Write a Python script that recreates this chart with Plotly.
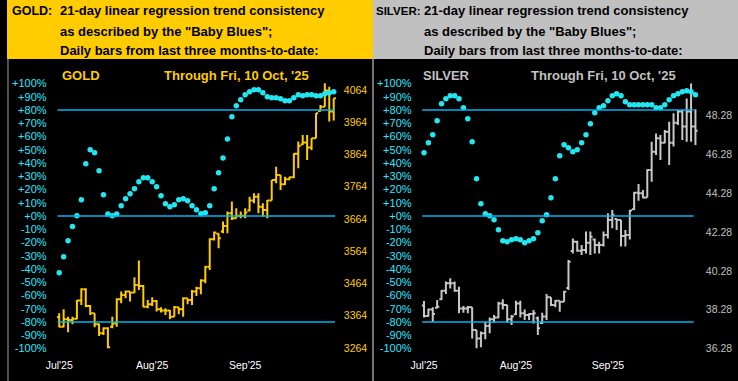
import plotly.graph_objects as go

W, H = 738, 381

# ---------------- data ----------------
bar_index = list(range(63))

gold_open = [3360, 3330, 3353, 3351, 3355, 3411, 3446, 3394, 3372, 3338, 3310, 3325, 3330, 3340, 3415, 3428,
             3439, 3436, 3459, 3456, 3392, 3400, 3410, 3384, 3380, 3380, 3361, 3390, 3384, 3418, 3413, 3439,
             3449, 3473, 3516, 3601, 3618, 3625, 3642, 3682, 3666, 3674, 3674, 3690, 3721, 3733, 3702, 3692,
             3721, 3785, 3800, 3772, 3787, 3793, 3866, 3895, 3901, 3886, 3914, 3999, 4012, 4062, 3997]
gold_high = [3372, 3384, 3361, 3361, 3413, 3449, 3449, 3397, 3372, 3340, 3328, 3328, 3361, 3418, 3439, 3442,
             3439, 3483, 3535, 3459, 3413, 3421, 3413, 3390, 3387, 3382, 3394, 3390, 3421, 3418, 3444, 3454,
             3477, 3518, 3604, 3625, 3620, 3656, 3687, 3718, 3697, 3687, 3697, 3733, 3744, 3744, 3713, 3723,
             3785, 3826, 3800, 3795, 3795, 3868, 3904, 3924, 3924, 3914, 3992, 4017, 4085, 4074, 4038]
gold_low = [3328, 3328, 3313, 3338, 3353, 3397, 3390, 3366, 3328, 3301, 3304, 3263, 3325, 3330, 3403, 3418,
            3408, 3434, 3444, 3390, 3387, 3394, 3377, 3374, 3366, 3353, 3361, 3369, 3361, 3400, 3397, 3425,
            3431, 3465, 3506, 3597, 3573, 3620, 3620, 3661, 3666, 3666, 3666, 3687, 3713, 3682, 3671, 3666,
            3721, 3775, 3754, 3769, 3785, 3790, 3821, 3893, 3847, 3878, 3914, 3997, 4012, 3966, 3969]
gold_close = [3330, 3353, 3351, 3355, 3411, 3446, 3394, 3372, 3338, 3310, 3325, 3266, 3340, 3415, 3428, 3439,
              3436, 3459, 3456, 3392, 3400, 3410, 3384, 3380, 3380, 3361, 3390, 3384, 3418, 3413, 3439, 3449,
              3473, 3516, 3601, 3622, 3604, 3642, 3682, 3666, 3674, 3674, 3684, 3721, 3733, 3702, 3692, 3721,
              3785, 3800, 3772, 3787, 3793, 3866, 3890, 3901, 3886, 3914, 3992, 4012, 4062, 3997, 4038]
gold_trend_pct = [-42.8, -30.7, -18.6, -8, 0.2, 12.3, 39.5, 50, 47.8, 34.2, 16, 1.5, 0.2, 1.5, 7.8, 13,
                  16.8, 20.6, 25.9, 28.9, 28.9, 25.9, 22.1, 15.3, 9.3, 7, 8.5, 12.3, 13, 11.5, 7.8, 4.8,
                  1.7, 2.5, 7.8, 20.6, 32.7, 43.8, 58.1, 75, 83.2, 87.8, 91.5, 93.8, 95.3, 95.3, 93, 90,
                  89.3, 89.3, 88.5, 87, 87, 89.3, 91.5, 90.8, 91.5, 91.5, 90.8, 90.8, 92.3, 93, 93.8]

silver_open = [38.50, 37.96, 38.30, 38.38, 38.82, 39.26, 39.64, 39.64, 39.26, 38.35, 38.35, 38.41, 37.24, 36.81,
               37.07, 37.45, 37.79, 37.89, 38.61, 38.53, 37.79, 38.05, 38.61, 38.10, 38.01, 38.06, 37.85, 37.60,
               37.93, 38.92, 38.53, 38.75, 38.70, 39.40, 41.30, 41.78, 41.32, 41.35, 41.73, 41.90, 41.61, 41.61,
               42.13, 42.90, 42.95, 42.90, 42.07, 42.13, 43.45, 44.30, 44.27, 44.06, 45.47, 46.41, 47.10, 46.87,
               47.44, 46.87, 47.90, 48.47, 47.70, 48.47, 47.70]
silver_high = [38.73, 38.35, 38.41, 38.78, 39.30, 39.73, 39.90, 39.73, 39.47, 38.47, 38.47, 38.41, 37.24, 37.16,
               37.67, 37.89, 38.01, 38.70, 38.82, 38.53, 38.01, 38.75, 38.75, 38.30, 38.10, 38.27, 37.93, 38.13,
               39.09, 38.92, 38.78, 38.75, 39.26, 40.84, 41.95, 41.83, 41.61, 42.30, 42.30, 41.95, 41.78, 42.30,
               43.24, 43.41, 42.98, 42.90, 42.38, 43.41, 44.35, 44.75, 44.44, 45.50, 46.92, 47.35, 47.27, 47.52,
               47.95, 48.38, 48.55, 48.55, 49.15, 49.92, 48.59]
silver_low = [37.89, 37.93, 37.67, 38.35, 38.78, 39.09, 39.38, 39.21, 38.10, 38.13, 38.10, 36.81, 36.30, 36.35,
              36.76, 37.07, 37.62, 37.84, 38.30, 37.62, 37.50, 38.01, 37.89, 37.76, 37.76, 37.58, 36.98, 37.55,
              37.76, 38.47, 38.41, 38.18, 38.70, 39.30, 41.18, 41.27, 41.10, 41.18, 41.10, 41.18, 41.18, 41.53,
              41.95, 42.47, 42.38, 41.53, 41.53, 41.90, 43.41, 43.89, 44.01, 44.06, 44.87, 46.24, 45.98, 46.84,
              45.72, 46.67, 47.78, 47.01, 46.92, 46.92, 46.75]
silver_close = [37.96, 38.30, 38.06, 38.44, 39.26, 39.64, 39.64, 39.26, 38.35, 38.35, 38.41, 37.24, 36.81, 37.07,
                37.45, 37.79, 37.89, 38.61, 38.53, 37.79, 37.93, 38.61, 38.10, 38.01, 38.06, 38.10, 37.33, 37.93,
                38.92, 38.53, 38.75, 38.70, 39.21, 40.75, 41.78, 41.32, 41.35, 41.73, 42.04, 41.61, 41.61, 42.13,
                42.90, 43.15, 42.90, 42.07, 42.13, 43.38, 44.30, 44.27, 44.06, 45.47, 46.41, 47.10, 46.87, 47.44,
                46.87, 47.90, 48.47, 47.70, 48.47, 47.70, 47.49]
silver_trend_pct = [47.8, 55.3, 61.4, 71.9, 84.8, 88.5, 90.8, 90.8, 88.5, 81.7, 73.4, 56.1, 28.2, 9.3, 1.7, 0.2,
                    -2.8, -10.3, -18.6, -19.4, -17.9, -17.1, -17.9, -20.2, -18.6, -17.1, -12.6, -3.5, 1, 13.8,
                    28.2, 45.5, 53.8, 51.5, 48.5, 50, 55.3, 61.4, 69.7, 78, 81.7, 83.2, 87, 90.8, 92.3, 90.8,
                    86.3, 84, 84, 84, 84, 84, 84, 81.7, 81.7, 84, 87.8, 90.8, 92.3, 93.8, 94.6, 93.8, 91.5]

pct_ticks = list(range(-100, 101, 10))
pct_labels = [("+%d%%" % v) if v >= 0 else ("%d%%" % v) for v in pct_ticks]
gold_ticks = [3264, 3364, 3464, 3564, 3664, 3764, 3864, 3964, 4064]
silver_ticks = [36.28, 38.28, 40.28, 42.28, 44.28, 46.28, 48.28]
month_pos = [0, 21, 42]
month_labels = ["Jul'25", "Aug'25", "Sep'25"]
ref_levels = [80, 0, -80]

header_lines = ["21-day linear regression trend consistency",
                "as described by the \"Baby Blues\";",
                "Daily bars from last three months-to-date:"]
through_text = "Through Fri, 10 Oct, '25"

# ---------------- styling ----------------
GOLD = "#FFCC00"
SILVER_HDR = "#C0C0C0"
SILVER_BAR = "#C8C8C8"
CYAN_DOT = "#22E6F0"
CYAN_TXT = "#2EE8FF"
LINE_BLUE = "#00B4F4"
FONT = "Liberation Sans"

def px(x):
    return x / W

def py(y):
    return 1 - y / H

ydom = [py(357), py(59)]

fig = go.Figure()

fig.add_trace(go.Ohlc(x=bar_index, open=gold_open, high=gold_high, low=gold_low, close=gold_close,
                      xaxis="x", yaxis="y", tickwidth=0.5,
                      increasing=dict(line=dict(color=GOLD, width=2)),
                      decreasing=dict(line=dict(color=GOLD, width=2)),
                      hoverinfo="skip", showlegend=False))
fig.add_trace(go.Scatter(x=bar_index, y=gold_trend_pct, mode="markers", xaxis="x", yaxis="y2",
                         marker=dict(color=CYAN_DOT, size=5.5, symbol="circle", line=dict(width=0)),
                         hoverinfo="skip", showlegend=False))
fig.add_trace(go.Ohlc(x=bar_index, open=silver_open, high=silver_high, low=silver_low, close=silver_close,
                      xaxis="x2", yaxis="y3", tickwidth=0.5,
                      increasing=dict(line=dict(color=SILVER_BAR, width=2)),
                      decreasing=dict(line=dict(color=SILVER_BAR, width=2)),
                      hoverinfo="skip", showlegend=False))
fig.add_trace(go.Scatter(x=bar_index, y=silver_trend_pct, mode="markers", xaxis="x2", yaxis="y4",
                         marker=dict(color=CYAN_DOT, size=5.5, symbol="circle", line=dict(width=0)),
                         hoverinfo="skip", showlegend=False))

shapes = []
shapes.append(dict(type="rect", xref="paper", yref="paper", x0=0, x1=px(369.5), y0=py(59), y1=1,
                   fillcolor=GOLD, line=dict(width=0), layer="below"))
shapes.append(dict(type="rect", xref="paper", yref="paper", x0=px(369.5), x1=1, y0=py(59), y1=1,
                   fillcolor=SILVER_HDR, line=dict(width=0), layer="below"))
shapes.append(dict(type="line", xref="paper", yref="paper", x0=px(369.5), x1=px(369.5), y0=0, y1=py(59),
                   line=dict(color="#C0C0C0", width=1.2)))
shapes.append(dict(type="line", xref="paper", yref="paper", x0=px(1), x1=px(1), y0=0, y1=py(59),
                   line=dict(color="#A0A0A0", width=1)))
for lv in ref_levels:
    shapes.append(dict(type="line", xref="x", yref="y2", x0=-0.4, x1=62.3, y0=lv, y1=lv,
                       line=dict(color=LINE_BLUE, width=1.4)))
    shapes.append(dict(type="line", xref="x2", yref="y4", x0=-0.4, x1=61.6, y0=lv, y1=lv,
                       line=dict(color=LINE_BLUE, width=1.4)))

ann = []
hfont = dict(family=FONT, size=13, color="black", weight="bold")
ann.append(dict(text="GOLD:", x=px(3), y=py(11), xref="paper", yref="paper", xanchor="left",
                yanchor="middle", showarrow=False, font=dict(family=FONT, size=12.5, color="black", weight="bold")))
ann.append(dict(text="SILVER:", x=px(371), y=py(11), xref="paper", yref="paper", xanchor="left",
                yanchor="middle", showarrow=False, font=dict(family=FONT, size=11.5, color="black", weight="bold")))
for i, t in enumerate(header_lines):
    ann.append(dict(text=t, x=px(51), y=py(11 + 20 * i), xref="paper", yref="paper", xanchor="left",
                    yanchor="middle", showarrow=False, font=hfont))
    ann.append(dict(text=t, x=px(419), y=py(11 + 20 * i), xref="paper", yref="paper", xanchor="left",
                    yanchor="middle", showarrow=False, font=hfont))

ann.append(dict(text="GOLD", x=px(54), y=py(76), xref="paper", yref="paper", xanchor="left",
                yanchor="middle", showarrow=False, font=dict(family=FONT, size=13, color=GOLD, weight="bold")))
ann.append(dict(text=through_text, x=px(156), y=py(76), xref="paper", yref="paper", xanchor="left",
                yanchor="middle", showarrow=False, font=dict(family=FONT, size=13, color=GOLD, weight="bold")))
ann.append(dict(text="SILVER", x=px(418), y=py(76), xref="paper", yref="paper", xanchor="left",
                yanchor="middle", showarrow=False, font=dict(family=FONT, size=13, color=SILVER_HDR, weight="bold")))
ann.append(dict(text=through_text, x=px(527), y=py(76), xref="paper", yref="paper", xanchor="left",
                yanchor="middle", showarrow=False, font=dict(family=FONT, size=13, color=SILVER_HDR, weight="bold")))

xcommon = dict(showgrid=False, zeroline=False, showline=False, ticks="", tickmode="array",
               tickvals=month_pos, ticktext=month_labels,
               tickfont=dict(family=FONT, size=10.5, color="white"), rangeslider=dict(visible=False),
               fixedrange=True)

fig.update_layout(
    width=W, height=H, margin=dict(l=0, r=0, t=0, b=0),
    paper_bgcolor="black", plot_bgcolor="black",
    showlegend=False,
    shapes=shapes, annotations=ann,
    xaxis=dict(domain=[px(46), px(336)], range=[-1.5, 63.38], anchor="y", **xcommon),
    xaxis2=dict(domain=[px(414.5), px(704.5)], range=[-1.47, 64.14], anchor="y3", **xcommon),
    yaxis=dict(domain=ydom, range=[3236.1, 4160], side="right", anchor="x", showgrid=False, zeroline=False,
               tickmode="array", tickvals=gold_ticks, ticktext=[str(v) for v in gold_ticks], ticks="",
               ticklabelstandoff=3, tickfont=dict(family=FONT, size=10.5, color=GOLD), fixedrange=True),
    yaxis2=dict(range=[-106.4, 118.5], overlaying="y", side="left", anchor="x", showgrid=False,
                zeroline=False, tickmode="array", tickvals=pct_ticks, ticktext=pct_labels, ticks="",
                ticklabelstandoff=5, tickfont=dict(family=FONT, size=11, color=CYAN_TXT), fixedrange=True),
    yaxis3=dict(domain=ydom, range=[35.853, 51.175], side="right", anchor="x2", showgrid=False, zeroline=False,
                tickmode="array", tickvals=silver_ticks, ticktext=["%.2f" % v for v in silver_ticks], ticks="",
                ticklabelstandoff=0, tickfont=dict(family=FONT, size=10.5, color=SILVER_HDR), fixedrange=True),
    yaxis4=dict(range=[-106.4, 118.5], overlaying="y3", side="left", anchor="x2", showgrid=False,
                zeroline=False, tickmode="array", tickvals=pct_ticks, ticktext=pct_labels, ticks="",
                ticklabelstandoff=5, tickfont=dict(family=FONT, size=11, color=CYAN_TXT), fixedrange=True),
)

fig.write_html("out.html", config={"displayModeBar": False},
               post_script="document.body.style.margin='0';document.body.style.padding='0';"
                           "document.body.style.overflow='hidden';")
